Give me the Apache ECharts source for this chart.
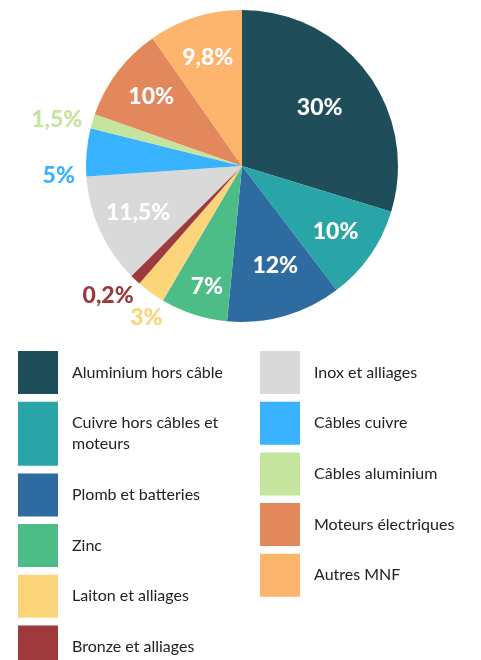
<!DOCTYPE html>
<html>
<head>
<meta charset="utf-8">
<script src="https://cdn.jsdelivr.net/npm/echarts@6/dist/echarts.min.js"></script>
<style>
    html, body { margin: 0; padding: 0; background: #fff; }
    #chart { width: 481px; height: 660px; }
</style>
</head>
<body>
<div id="chart"></div>
<script>
    // parts de chaque métal (%)
    const categories = [
        'Aluminium hors câble', 'Cuivre hors câbles et moteurs', 'Plomb et batteries', 'Zinc',
        'Laiton et alliages', 'Bronze et alliages', 'Inox et alliages', 'Câbles cuivre',
        'Câbles aluminium', 'Moteurs électriques', 'Autres MNF'
    ];
    const shares = [30, 10, 12, 7, 3, 0.2, 11.5, 5, 1.5, 10, 9.8];
    const colors = [
        '#1f4e5a', '#29a5a8', '#2e6ba0', '#4dbd88', '#fcd47a', '#9e3a3c',
        '#d9d9d9', '#39b3ff', '#c5e49e', '#e3885c', '#fdb46c'
    ];
    // petites parts : étiquette à l'extérieur
    const outside = ['Laiton et alliages', 'Bronze et alliages', 'Câbles cuivre', 'Câbles aluminium'];
    const leftLegend = categories.slice(0, 6);
    const rightLegend = categories.slice(6);
    const twoLines = 'Cuivre hors câbles et moteurs';

    // petits décalages d'étiquettes (px)
    const nudge = {
        'Aluminium hors câble': [-14, 9],
        'Plomb et batteries': [2, -10],
        'Zinc': [0, 12],
        'Laiton et alliages': [12, 2],
        'Bronze et alliages': [-8, -5],
        'Câbles cuivre': [0, 26],
        'Câbles aluminium': [-9, 6]
    };

    const fmt = p => String(p.value).replace('.', ',') + '%';
    const clear = 'rgba(0,0,0,0)';
    const labelFont = { fontFamily: 'Lato', fontWeight: 900, fontSize: 23 };

    const chart = echarts.init(document.getElementById('chart'));

    const pieBase = {
        type: 'pie',
        center: [242, 166],
        startAngle: 90,
        minAngle: 4,
        avoidLabelOverlap: false,
        labelLayout: { hideOverlap: false },
        labelLine: { show: false },
        emphasis: { disabled: true },
        animation: false
    };

    // carré 40x43 centré dans une case de 64 ; l'entrée sur deux lignes garde 40x64
    const legendBase = {
        orient: 'vertical',
        top: 351,
        height: 420,
        padding: 0,
        itemWidth: 40,
        itemHeight: 64,
        itemGap: 7.7,
        icon: 'path://M0 0H40V43H0Z',
        selectedMode: false,
        textStyle: {
            fontFamily: 'Lato', fontSize: 16, color: '#222',
            width: 170, overflow: 'break', padding: [0, 0, 0, 9]
        }
    };

    const legendItem = n => n === twoLines
        ? { name: n, icon: 'rect', textStyle: { lineHeight: 21 } }
        : { name: n };

    const labelItem = (n, i, show, color) => ({
        name: n, value: shares[i],
        label: { show: show, color: color, offset: nudge[n] || [0, 0] }
    });

    chart.setOption({
        legend: [
            Object.assign({}, legendBase, { left: 18, data: leftLegend.map(legendItem) }),
            Object.assign({}, legendBase, { left: 260, data: rightLegend.map(legendItem) })
        ],
        series: [
            Object.assign({}, pieBase, {
                radius: 156,
                label: { show: false },
                data: categories.map((n, i) => ({ name: n, value: shares[i], itemStyle: { color: colors[i] } }))
            }),
            // étiquettes blanches dans les parts
            Object.assign({}, pieBase, {
                radius: [66, 156],
                silent: true,
                itemStyle: { color: clear },
                label: Object.assign({ position: 'inside', formatter: fmt }, labelFont),
                data: categories.map((n, i) => labelItem(n, i, outside.indexOf(n) < 0, '#fff'))
            }),
            // étiquettes colorées à l'extérieur
            Object.assign({}, pieBase, {
                radius: [156, 206],
                silent: true,
                itemStyle: { color: clear },
                label: Object.assign({ position: 'inside', formatter: fmt }, labelFont),
                data: categories.map((n, i) => labelItem(n, i, outside.indexOf(n) >= 0, colors[i]))
            })
        ]
    });
</script>
</body>
</html>
